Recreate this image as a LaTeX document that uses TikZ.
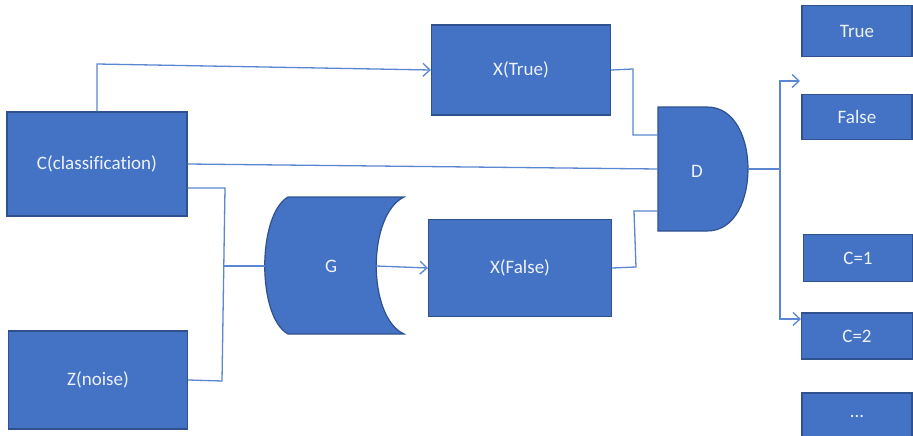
\documentclass[tikz,border=0pt]{standalone}
\usepackage{fontspec}
\setmainfont{Carlito}[Ligatures={NoCommon}]
\usetikzlibrary{arrows.meta}

\definecolor{boxblue}{HTML}{4472C4}
\definecolor{boxedge}{HTML}{2F528F}
\definecolor{wireblue}{HTML}{5A86D2}
\definecolor{textwhite}{HTML}{EEF2FA}

\begin{document}
\begin{tikzpicture}[x=1pt,y=-1pt,
  box/.style={draw=boxedge,fill=boxblue,text=textwhite,line width=1.2pt,
    inner sep=0pt,font=\fontsize{19}{22}\selectfont},
  label/.style={text=textwhite,inner sep=0pt,font=\fontsize{19}{22}\selectfont},
  wire/.style={draw=wireblue,line width=1.3pt},
  arr/.style={wire,-{Straight Barb[length=7pt,width=13pt,line width=1.3pt]}}]

\clip (0,0) rectangle (913,436);
\fill[white] (0,0) rectangle (913,436);

% inputs and generated samples
\node[box,minimum width=180pt,minimum height=104pt] (C) at (97,164) {C(classification)};
\node[box,minimum width=179pt,minimum height=98pt] (Z) at (98,380) {Z(noise)};
\node[box,minimum width=179pt,minimum height=90pt] (XT) at (521,70) {X(True)};
\node[box,minimum width=183pt,minimum height=97pt] (XF) at (520,268) {X(False)};

% outputs
\node[box,minimum width=110pt,minimum height=51pt] (T) at (857,31) {True};
\node[box,minimum width=110pt,minimum height=45pt] (F) at (857,117) {False};
\node[box,minimum width=109pt,minimum height=47pt] (C1) at (858,258) {C=1};
\node[box,minimum width=111pt,minimum height=46pt] (C2) at (857,336) {C=2};
\node[box,minimum width=110pt,minimum height=46pt] (dots) at (857,416) {...};

% generator G
\filldraw[fill=boxblue,draw=boxedge,line width=1.2pt]
  (288,197) -- (404,197) .. controls (367,215) and (367,317) .. (404,334)
  -- (288,334) .. controls (257,317) and (257,215) .. (288,197) -- cycle;
\node[label] (G) at (331,266) {G};
\coordinate (Gin) at (265,266);
\coordinate (Gout) at (376,266);

% discriminator D
\filldraw[fill=boxblue,draw=boxedge,line width=1.2pt]
  (658,107) -- (707,107) .. controls (736,107) and (748,140) .. (748,169)
  .. controls (748,198) and (736,231) .. (707,231) -- (658,231) -- cycle;
\node[label] (D) at (697,171) {D};
\coordinate (Din1) at (658,135);
\coordinate (Din2) at (658,169);
\coordinate (Din3) at (658,211);
\coordinate (Dout) at (748,169);

% wiring
\coordinate (cTop) at (97,64);
\coordinate (jTop) at (225,188);
\coordinate (jG) at (224,266);
\coordinate (jBot) at (222,381);
\coordinate (tA) at (633,69);
\coordinate (tB) at (633,135);
\coordinate (fA) at (636,267);
\coordinate (fB) at (634,211);
\coordinate (bus) at (780,169);
\coordinate (busTop) at (780,81);
\coordinate (busBot) at (780,319);
\coordinate (tipTF) at (800,81);

\draw[arr] (C.north) -- (cTop) -- (XT.west);
\draw[wire] (C.east) -- (Din2);
\draw[wire] (C.east |- jTop) -- (jTop) -- (jBot) -- (Z.east);
\draw[wire] (jG) -- (Gin);
\draw[arr] (Gout) -- (XF.west);
\draw[wire] (XT.east) -- (tA) -- (tB) -- (Din1);
\draw[wire] (XF.east) -- (fA) -- (fB) -- (Din3);
\draw[wire] (Dout) -- (bus);
\draw[arr] (bus) -- (busTop) -- (tipTF);
\draw[arr] (bus) -- (busBot) -- (C2.west |- busBot);

\end{tikzpicture}
\end{document}
